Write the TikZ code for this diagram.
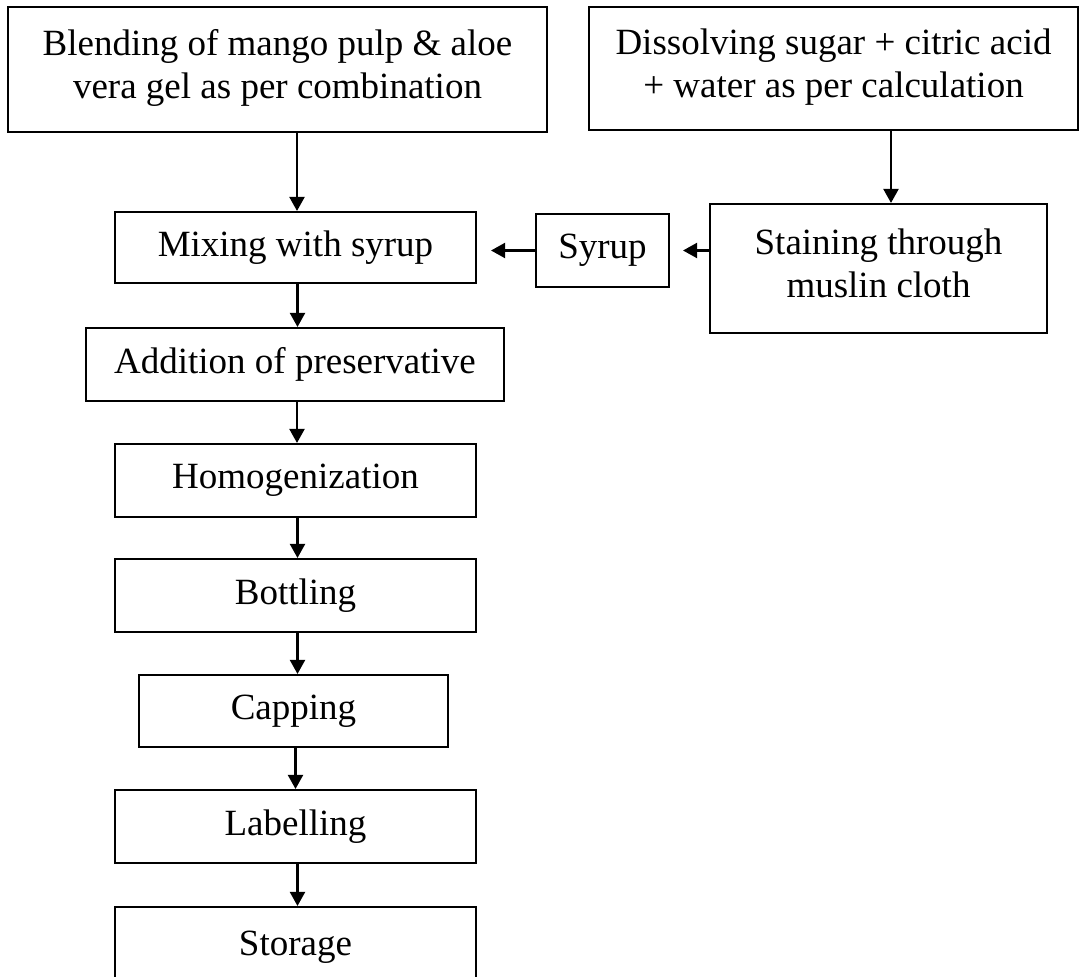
\documentclass[tikz,border=0pt]{standalone}
\usepackage{fontspec}
\setmainfont{Liberation Serif}
\usetikzlibrary{arrows.meta}
\definecolor{flowInk}{HTML}{000000}
\tikzset{
  flow box/.style={draw=flowInk, line width=2.1pt, inner sep=0pt, align=center, text=flowInk, font=\fontsize{37}{42.6}\selectfont},
  flow arrow/.style={draw=flowInk, line width=2.1pt, -{Triangle[length=14pt, width=15pt]}},
}

\begin{document}
\begin{tikzpicture}[x=1pt, y=-1pt]
  \useasboundingbox (0,0) rectangle (1080,977);
  % Starting operations
  \node[flow box, minimum width=539pt, minimum height=125pt] (blend) at (277.5,69.5) {Blending of mango pulp \& aloe\\vera gel as per combination\\[-32pt]};
  \node[flow box, minimum width=489pt, minimum height=123pt] (dissolve) at (833.5,68.5) {Dissolving sugar + citric acid\\+ water as per calculation\\[-32pt]};
  % Syrup line on the right
  \node[flow box, minimum width=337pt, minimum height=129pt] (strain) at (878.5,268.5) {Staining through\\muslin cloth\\[-32pt]};
  \node[flow box, minimum width=133pt, minimum height=73pt] (syrup) at (602.5,250.5) {Syrup};
  % Main column
  \node[flow box, minimum width=361pt, minimum height=71pt] (mix) at (295.5,247.5) {Mixing with syrup};
  \node[flow box, minimum width=418pt, minimum height=73pt] (addpres) at (295,364.5) {Addition of preservative};
  \node[flow box, minimum width=361pt, minimum height=73pt] (homog) at (295.5,480.5) {Homogenization};
  \node[flow box, minimum width=361pt, minimum height=73pt] (bottle) at (295.5,595.5) {Bottling};
  \node[flow box, minimum width=309pt, minimum height=72pt] (cap) at (293.5,711) {Capping};
  \node[flow box, minimum width=361pt, minimum height=73pt] (label) at (295.5,826.5) {Labelling};
  \node[flow box, minimum width=361pt, minimum height=80pt] (store) at (295.5,947) {Storage};

  \draw[flow arrow] ([xshift=1.5pt]mix.north |- blend.south) -- ([xshift=1.5pt]mix.north);
  \draw[flow arrow] ([xshift=12.5pt]strain.north |- dissolve.south) -- ([xshift=12.5pt]strain.north);
  % Syrup goes back into the mixing step
  \draw[flow arrow, shorten >=13pt] (strain.west |- syrup.east) -- (syrup.east);
  \draw[flow arrow, shorten >=14pt] (syrup.west) -- (mix.east |- syrup.west);
  \foreach \a/\b in {mix/addpres, addpres/homog, homog/bottle, bottle/cap, cap/label, label/store}
    \draw[flow arrow] ([xshift=2pt]\a.south) -- ([xshift=2pt]\a.south |- \b.north);
\end{tikzpicture}
\end{document}
